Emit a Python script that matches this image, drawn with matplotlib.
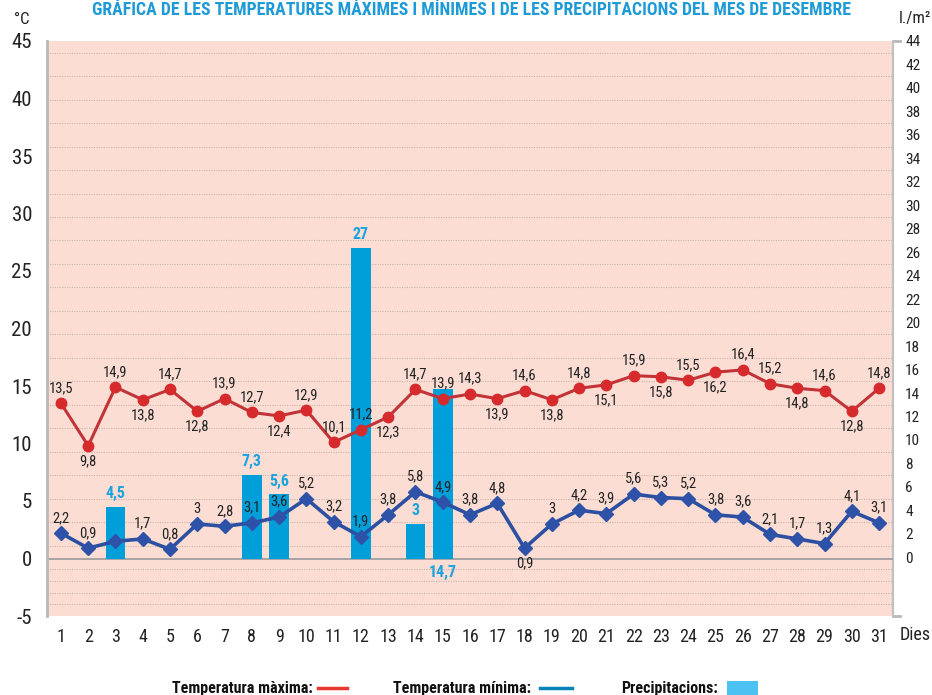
import matplotlib
matplotlib.use("Agg")
import matplotlib.pyplot as plt
from matplotlib import font_manager as fm
from matplotlib.ticker import FixedLocator
from matplotlib.lines import Line2D
from matplotlib.patches import Rectangle

# ---------------- data ----------------
days = list(range(1, 32))
t_max = [13.5, 9.8, 14.9, 13.8, 14.7, 12.8, 13.9, 12.7, 12.4, 12.9, 10.1, 11.2, 12.3, 14.7, 13.9,
         14.3, 13.9, 14.6, 13.8, 14.8, 15.1, 15.9, 15.8, 15.5, 16.2, 16.4, 15.2, 14.8, 14.6, 12.8, 14.8]
t_min = [2.2, 0.9, 1.5, 1.7, 0.8, 3, 2.8, 3.1, 3.6, 5.2, 3.2, 1.9, 3.8, 5.8, 4.9,
         3.8, 4.8, 0.9, 3, 4.2, 3.9, 5.6, 5.3, 5.2, 3.8, 3.6, 2.1, 1.7, 1.3, 4.1, 3.1]
rain_days = [3, 8, 9, 12, 14, 15]
rain_vals = [4.5, 7.3, 5.6, 27, 3, 14.7]

# label placement ('a' above, 'b' below, '' none)
max_pos = ['a', 'b', 'a', 'b', 'a', 'b', 'a', 'a', 'b', 'a', 'a', 'a', 'b', 'a', 'a',
           'a', 'b', 'a', 'b', 'a', 'b', 'a', 'b', 'a', 'b', 'a', 'a', 'b', 'a', 'b', 'a']
min_pos = ['a', 'a', '', 'a', 'a', 'a', 'a', 'a', 'a', 'a', 'a', 'a', 'a', 'a', 'a',
           'a', 'a', 'b', 'a', 'a', 'a', 'a', 'a', 'a', 'a', 'a', 'a', 'a', 'a', 'a', 'a']
rain_pos = ['a', 'a', 'a', 'a', 'a', 'bottom']

left_ticks = list(range(-5, 50, 5))
right_ticks = list(range(0, 45, 2))

title = "GRÁFICA DE LES TEMPERATURES MÀXIMES I MÍNIMES I DE LES PRECIPITACIONS DEL MES DE DESEMBRE"

# ---------------- fonts ----------------
names = {f.name for f in fm.fontManager.ttflist}
family = 'DejaVu Sans'
for cand in ['Liberation Sans Narrow', 'Roboto Condensed', 'Open Sans Condensed', 'Noto Sans Condensed']:
    if cand in names:
        family = cand
        break
plt.rcParams['font.family'] = [family, 'DejaVu Sans']


def fmt(v):
    s = ('%.1f' % v).rstrip('0').rstrip('.')
    return s.replace('.', ',')


W, H = 932, 695
fig = plt.figure(figsize=(W / 100, H / 100), dpi=100)
fig.patch.set_facecolor('white')

x0, x1, y0, y1 = 47.3, 892.7, 41, 616
ax = fig.add_axes([x0 / W, 1 - y1 / H, (x1 - x0) / W, (y1 - y0) / H])
ax2 = ax.twinx()
ax2.set_zorder(ax.get_zorder() - 1)
ax.patch.set_visible(False)
ax2.patch.set_visible(True)
ax2.patch.set_facecolor('#FBDDD3')

ax.set_xlim(0.5, 31.5)
ax.set_ylim(-5, 45)
ax2.set_ylim(-5, 44)

# grid on the back axes
ax2.yaxis.set_minor_locator(FixedLocator(list(range(-4, 44))))
ax2.grid(which='minor', axis='y', color='#c9b5af', linestyle=(0, (1, 1.2)), linewidth=0.8)
ax.xaxis.set_minor_locator(FixedLocator([d + 0.5 for d in days[:-1]]))
ax2.grid(which='minor', axis='x', color='#d9c6c0', linestyle='-', linewidth=0.9)
ax2.grid(which='major', visible=False)

# spines
for s in ['top', 'bottom', 'right']:
    ax.spines[s].set_visible(False)
for s in ['top', 'bottom', 'left']:
    ax2.spines[s].set_visible(False)
ax.spines['left'].set_color('#b8b8b8')
ax.spines['left'].set_linewidth(2)
ax2.spines['right'].set_color('#c0c0c0')
ax2.spines['right'].set_linewidth(1.5)

# ticks
ax.set_yticks(left_ticks)
ax.set_yticklabels([str(t) for t in left_ticks])
ax.tick_params(axis='y', which='major', length=0, labelsize=15, pad=11, labelcolor='#222222')
ax.yaxis.set_minor_locator(FixedLocator([-5, 45]))
ax.tick_params(axis='y', which='minor', length=5, width=2, color='#b8b8b8')

ax.set_xticks(days)
ax.set_xticklabels([str(d) for d in days])
ax.tick_params(axis='x', which='both', length=0, labelsize=13, pad=9, labelcolor='#222222')

ax2.set_yticks(right_ticks)
ax2.set_yticklabels([str(t) for t in right_ticks])
ax2.tick_params(axis='y', which='major', length=0, labelsize=11, pad=9, labelcolor='#222222')
ax2.tick_params(axis='y', which='minor', length=0)

# small end ticks on the right axis
for yy in (0.0, 1.0):
    ax2.add_artist(Line2D([1.0, 1.009], [yy, yy], transform=ax2.transAxes, color='#b8b8b8',
                          linewidth=2, clip_on=False))

# zero line
ax.axhline(0, color='#a0a0a0', linewidth=1.3, zorder=1)

# bars
bar_color = '#019FDA'
ax.bar(rain_days, rain_vals, width=0.72, color=bar_color, zorder=2)
for d, v, p in zip(rain_days, rain_vals, rain_pos):
    if p == 'bottom':
        ax.annotate(fmt(v), (d, 0), xytext=(0, -5), textcoords='offset points',
                    ha='center', va='top', fontsize=11.5, fontweight='bold', color='#1BA3E0', zorder=5)
    else:
        ax.annotate(fmt(v), (d, v), xytext=(0, 4), textcoords='offset points',
                    ha='center', va='bottom', fontsize=11.5, fontweight='bold', color='#1BA3E0', zorder=5)

# lines
ax.plot(days, t_max, color='#C23338', linewidth=2.2, marker='o', markersize=7.5,
        markerfacecolor='#D62A2D', markeredgecolor='#D62A2D', zorder=3)
ax.plot(days, t_min, color='#2C4FA1', linewidth=2.6, marker='D', markersize=7.5,
        markerfacecolor='#2D52A7', markeredgecolor='#2D52A7', zorder=3)

for d, v, p in zip(days, t_max, max_pos):
    if p == 'a':
        ax.annotate(fmt(v), (d, v), xytext=(0, 6), textcoords='offset points',
                    ha='center', va='bottom', fontsize=10.5, color='#222222', zorder=6)
    elif p == 'b':
        ax.annotate(fmt(v), (d, v), xytext=(0, -6), textcoords='offset points',
                    ha='center', va='top', fontsize=10.5, color='#222222', zorder=6)
for d, v, p in zip(days, t_min, min_pos):
    if p == 'a':
        ax.annotate(fmt(v), (d, v), xytext=(0, 6), textcoords='offset points',
                    ha='center', va='bottom', fontsize=10.5, color='#222222', zorder=6)
    elif p == 'b':
        ax.annotate(fmt(v), (d, v), xytext=(0, -6), textcoords='offset points',
                    ha='center', va='top', fontsize=10.5, color='#222222', zorder=6)

# texts
fig.text(472 / W, 1 - 10 / H, title, ha='center', va='center', fontsize=12.8,
         fontweight='bold', color='#1E9AD6')
fig.text(22 / W, 1 - 20 / H, '°C', ha='center', va='center', fontsize=12, color='#222222')
fig.text(915 / W, 1 - 19 / H, 'l./m²', ha='center', va='center', fontsize=12, color='#222222')
fig.text(915 / W, 1 - 635 / H, 'Dies', ha='center', va='center', fontsize=13, color='#222222')

# legend
ly = 1 - 688 / H
fig.text(313 / W, ly, 'Temperatura màxima:', ha='right', va='center', fontsize=11.5,
         fontweight='bold', color='#111111')
fig.add_artist(Line2D([318 / W, 347 / W], [ly, ly], color='#E8382F', linewidth=2.5))
fig.text(531 / W, ly, 'Temperatura mínima:', ha='right', va='center', fontsize=11.5,
         fontweight='bold', color='#111111')
fig.add_artist(Line2D([540 / W, 572 / W], [ly, ly], color='#0A84B8', linewidth=2.5))
fig.text(718 / W, ly, 'Precipitacions:', ha='right', va='center', fontsize=11.5,
         fontweight='bold', color='#111111')
fig.add_artist(Rectangle((727 / W, 1 - 696 / H), 31 / W, 15 / H, facecolor='#4BC2F1',
                         edgecolor='none', transform=fig.transFigure))

fig.savefig('out.png', dpi=100)
